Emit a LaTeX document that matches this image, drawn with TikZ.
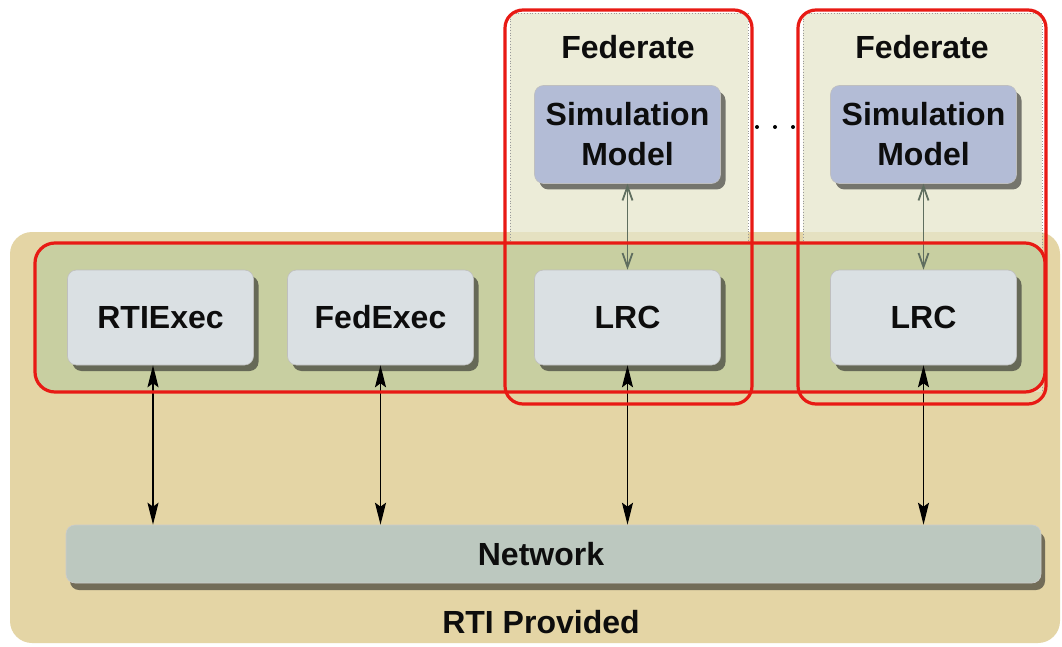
\documentclass[tikz,border=0pt]{standalone}
\usepackage{fontspec}
\setmainfont{Liberation Sans}
\usetikzlibrary{arrows.meta,shadows}
\definecolor{tanbg}{HTML}{E4D5A5}
\definecolor{bandbg}{HTML}{C8CFA1}
\definecolor{fedbg}{HTML}{E6E6CB}
\definecolor{compbg}{HTML}{DAE0E3}
\definecolor{simbg}{HTML}{B3BCD6}
\definecolor{netbg}{HTML}{BCC8BF}
\definecolor{hilite}{HTML}{E81A14}
\definecolor{linkgray}{HTML}{5F6E5F}
\tikzset{
  lbl/.style={font=\fontsize{32}{40}\selectfont\bfseries, text=black!95, align=center},
  comp/.style={lbl, rectangle, rounded corners=9pt, fill=compbg, draw=black!25, line width=0.6pt,
    minimum width=186pt, minimum height=95pt, inner sep=0pt,
    drop shadow={shadow xshift=5pt, shadow yshift=-6pt, fill=black!85, opacity=0.6}},
  simbox/.style={comp, fill=simbg, minimum height=98pt},
  netbox/.style={lbl, rectangle, rounded corners=9pt, fill=netbg, draw=black!20, line width=0.6pt,
    minimum width=975pt, minimum height=58pt, inner sep=0pt,
    drop shadow={shadow xshift=4pt, shadow yshift=-7pt, fill=black!85, opacity=0.6}},
  redframe/.style={draw=hilite, line width=3.2pt, rounded corners=18pt},
  tipN/.tip={Stealth[length=22pt,width=11pt,inset=4pt]},
  tipS/.tip={Straight Barb[length=14pt,width=10pt]},
  netlink/.style={tipN-tipN, line width=1.3pt, black},
  simlink/.style={tipS-tipS, line width=1.8pt, linkgray},
}
\begin{document}
\begin{tikzpicture}[x=1pt,y=-1pt]
\useasboundingbox (0,0) rectangle (1062,647);
\fill[white] (0,0) rectangle (1062,647);

% RTI provided area
\fill[tanbg, rounded corners=22pt] (10,232) rectangle (1060,643);

% federate areas
\foreach \xl/\xr in {510/748, 803/1042} {
  \fill[fedbg, opacity=0.75] (\xl,13) rectangle (\xr,392);
  \draw[black!40, dotted, line width=0.8pt] (\xl,13) -- (\xr,13) -- (\xr,392) (\xl,13) -- (\xl,392);
}

% component band
\fill[bandbg, rounded corners=20pt] (35,243) rectangle (1045,392);

% components
\node[comp] (rti)  at (160.5,317.5) {RTIExec};
\node[comp] (fed)  at (380.5,317.5) {FedExec};
\node[comp] (lrc1) at (627.5,317.5) {LRC};
\node[comp] (lrc2) at (923.5,317.5) {LRC};
\node[simbox] (sim1) at (627.5,134.5) {Simulation\\Model};
\node[simbox] (sim2) at (923.5,134.5) {Simulation\\Model};
\node[netbox] (net) at (553.5,554) {};
\node[lbl] (netlbl) at (541,554) {Network};
\node[lbl] (fed1lbl) at (628,47) {Federate};
\node[lbl] (fed2lbl) at (922,47) {Federate};
\node[lbl] (rtilbl) at (541,622) {RTI Provided};

% ellipsis between federates
\foreach \dx in {757,775,793} \fill[black] (\dx,127) circle (2pt);

% links
\coordinate (rtiport) at ([xshift=-7.5pt]rti.south);
\draw[simlink] (sim1.south) -- (lrc1.north);
\draw[simlink] (sim2.south) -- (lrc2.north);
\draw[netlink] (rtiport) -- (rtiport |- net.north);
\draw[netlink] (fed.south) -- (fed.south |- net.north);
\draw[netlink] (lrc1.south) -- (lrc1.south |- net.north);
\draw[netlink] (lrc2.south) -- (lrc2.south |- net.north);

% highlight frames
\draw[redframe, rounded corners=20pt] (35,243) rectangle (1045,392);
\draw[redframe] (505,10) rectangle (752,404);
\draw[redframe] (798,10) rectangle (1046,404);
\end{tikzpicture}
\end{document}
